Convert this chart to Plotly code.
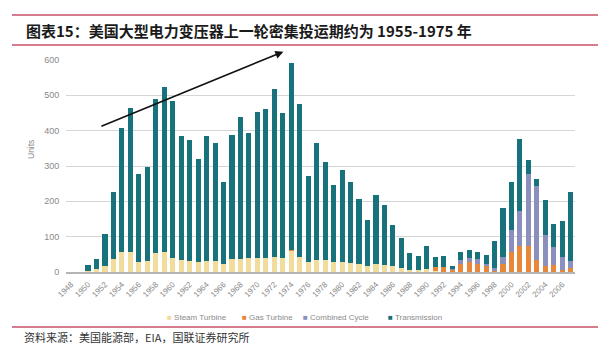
import plotly.graph_objects as go

years = list(range(1948, 2008))

steam_turbine = [0, 0, 3, 9, 18, 36, 58, 58, 28, 31, 55, 57, 41, 34, 32, 27, 32, 32, 23, 36,
                 38, 40, 41, 40, 43, 40, 60, 42, 28, 35, 35, 27, 29, 25, 23, 18, 24, 20, 16, 10,
                 6, 5, 8, 2, 1, 0, 0, 0, 0, 0, 0, 0, 0, 0, 0, 0, 0, 0, 0, 0]
gas_turbine = [0, 0, 0, 0, 0, 0, 0, 0, 0, 0, 0, 0, 0, 0, 0, 0, 0, 0, 0, 0,
               0, 0, 0, 0, 0, 0, 1, 0, 0, 0, 0, 0, 0, 0, 0, 0, 0, 0, 0, 0,
               0, 0, 0, 12, 14, 6, 22, 27, 23, 18, 2, 24, 56, 74, 74, 35, 16, 20, 5, 11]
combined_cycle = [0, 0, 0, 0, 0, 0, 0, 0, 0, 0, 0, 0, 0, 0, 0, 0, 0, 0, 0, 0,
                  0, 0, 0, 0, 0, 0, 0, 0, 0, 0, 0, 0, 0, 0, 0, 0, 0, 0, 0, 0,
                  0, 0, 0, 0, 0, 2, 12, 12, 13, 6, 8, 19, 64, 100, 203, 209, 89, 52, 38, 19]
transmission = [0, 0, 17, 29, 90, 191, 349, 405, 249, 267, 434, 466, 442, 352, 342, 292, 352, 332, 231, 351,
                402, 352, 412, 421, 474, 411, 531, 433, 243, 330, 275, 218, 259, 229, 185, 130, 195, 171, 118, 86,
                49, 39, 67, 29, 29, 10, 22, 24, 22, 25, 79, 137, 135, 203, 40, 18, 98, 65, 100, 197]

series_names = ["Steam Turbine", "Gas Turbine", "Combined Cycle", "Transmission"]
series_colors = ["#f2dc9c", "#e8863a", "#8b8fbd", "#17727c"]
series_values = [steam_turbine, gas_turbine, combined_cycle, transmission]

x_tick_vals = list(range(1948, 2007, 2))
x_tick_text = [str(v) for v in x_tick_vals]
y_tick_vals = [0, 100, 200, 300, 400, 500, 600]

title_text = "图表15：美国大型电力变压器上一轮密集投运期约为 1955-1975 年"
source_text = "资料来源：美国能源部，EIA，国联证券研究所"

# plot area in pixels
L, R, T, B = 66, 575, 60, 272
W, H = 600, 347
PW, PH = R - L, B - T


def px_x(x):
    return (x - L) / PW


def px_y(y):
    return (B - y) / PH


fig = go.Figure()
for name, color, vals in zip(series_names, series_colors, series_values):
    fig.add_trace(go.Bar(x=years, y=vals, name=name, marker=dict(color=color, line=dict(width=0)),
                         showlegend=False))

fig.update_layout(
    width=W, height=H,
    margin=dict(l=L, r=W - R, t=T, b=H - B),
    barmode="stack", bargap=0.4,
    plot_bgcolor="white", paper_bgcolor="white",
    font=dict(family="Liberation Sans, Arial, sans-serif", color="#8a8a8a"),
)
fig.update_xaxes(range=[1947.4, 2007.5], tickvals=x_tick_vals, ticktext=x_tick_text,
                 tickangle=-45, tickfont=dict(size=8, color="#8a8a8a"),
                 showgrid=False, zeroline=False, showline=True, linecolor="#b5b5b5", linewidth=1.5,
                 ticks="outside", ticklen=3, tickcolor="rgba(0,0,0,0)")
fig.update_yaxes(range=[0, 600], tickvals=y_tick_vals, tickfont=dict(size=9, color="#8a8a8a"),
                 showgrid=True, gridcolor="#d6d6d6", gridwidth=1, zeroline=False,
                 ticks="outside", ticklen=4, tickcolor="rgba(0,0,0,0)")

red = "#c8506a"
shapes = []
for ypx in (15, 45, 327):
    shapes.append(dict(type="line", xref="paper", yref="paper",
                       x0=px_x(12), x1=px_x(598), y0=px_y(ypx), y1=px_y(ypx),
                       line=dict(color=red, width=1.5)))
fig.update_layout(shapes=shapes)

annotations = [
    dict(text="<b>" + title_text + "</b>", xref="paper", yref="paper", x=px_x(24), y=px_y(31),
         xanchor="left", yanchor="middle", showarrow=False,
         font=dict(family="Noto Sans CJK SC", size=15, color="#1a1a1a")),
    dict(text=source_text, xref="paper", yref="paper", x=px_x(22), y=px_y(337),
         xanchor="left", yanchor="middle", showarrow=False,
         font=dict(family="Noto Sans CJK SC", size=11, color="#333333")),
    dict(text="Units", xref="paper", yref="paper", x=px_x(31), y=px_y(150),
         xanchor="center", yanchor="middle", textangle=-90, showarrow=False,
         font=dict(size=8.5, color="#8a8a8a")),
    dict(text="", x=1973.06, y=623.5, ax=1951.4, ay=411, xref="x", yref="y", axref="x", ayref="y",
         showarrow=True, arrowhead=2, arrowsize=1, arrowwidth=1.6, arrowcolor="#111111"),
]
legend_x = [165, 240, 301, 386]
for name, color, lx in zip(series_names, series_colors, legend_x):
    annotations.append(dict(
        text=f'<span style="color:{color}">■</span> {name}', xref="paper", yref="paper",
        x=px_x(lx), y=px_y(317), xanchor="left", yanchor="middle", showarrow=False,
        font=dict(size=8, color="#8a8a8a")))
fig.update_layout(annotations=annotations)

fig.write_html("out.html")
